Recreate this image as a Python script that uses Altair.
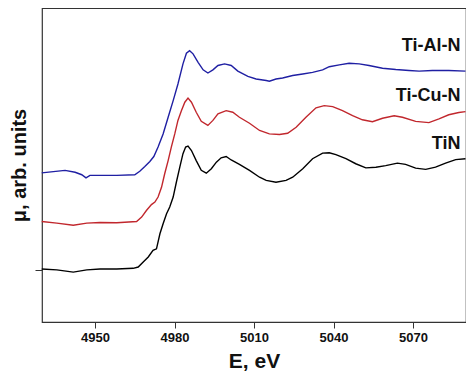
import altair as alt
import pandas as pd

# TiN (black)
tin_E = [4929.9, 4935.6, 4941.8, 4946.9, 4951.9, 4958.2, 4964.4, 4966.3, 4968.2, 4970.1,
         4971.9, 4973.2, 4974.5, 4975.7, 4977.0, 4978.2, 4979.5, 4980.7, 4982.0, 4983.2,
         4984.2, 4985.1, 4986.4, 4988.2, 4990.1, 4992.0, 4993.9, 4995.8, 4997.6, 4999.5,
         5001.4, 5004.5, 5008.3, 5012.1, 5014.6, 5018.3, 5022.1, 5024.6, 5028.4, 5032.1,
         5035.9, 5038.4, 5040.9, 5044.7, 5048.4, 5052.2, 5056.0, 5059.7, 5064.1, 5067.2,
         5071.0, 5074.8, 5078.5, 5082.3, 5086.1, 5089.8]
tin_mu = [16.9, 16.6, 15.9, 16.6, 16.9, 16.9, 17.1, 17.5, 19.1, 20.7,
          22.8, 23.3, 28.1, 31.3, 34.5, 36.6, 39.8, 44.5, 49.3, 53.6,
          55.7, 56.0, 54.6, 51.4, 48.3, 47.4, 48.8, 50.9, 52.3, 52.7,
          51.6, 50.2, 48.3, 46.1, 45.1, 44.5, 45.1, 46.1, 48.8, 52.0,
          53.8, 53.9, 53.3, 52.0, 50.4, 49.1, 49.3, 49.8, 50.6, 50.2,
          49.0, 48.6, 49.3, 50.6, 51.7, 52.0]

# Ti-Cu-N (red)
cu_E = [4929.9, 4935.6, 4941.8, 4946.9, 4951.9, 4958.2, 4965.7, 4967.6, 4969.4, 4971.3,
        4972.6, 4973.8, 4975.1, 4976.3, 4977.6, 4978.8, 4980.1, 4981.3, 4982.6, 4983.9,
        4985.1, 4986.4, 4988.2, 4990.1, 4992.6, 4994.5, 4996.4, 4999.5, 5002.0, 5004.5,
        5008.3, 5012.1, 5015.8, 5019.6, 5022.7, 5025.9, 5029.6, 5033.4, 5036.5, 5039.7,
        5043.4, 5047.2, 5050.9, 5054.7, 5058.5, 5062.9, 5066.0, 5071.0, 5076.0, 5079.8,
        5083.5, 5087.3, 5089.8]
cu_mu = [32.0, 31.5, 30.8, 31.5, 31.7, 31.6, 32.0, 33.4, 35.5, 37.4,
         38.2, 39.8, 42.9, 47.2, 51.4, 55.7, 59.9, 64.2, 67.3, 70.0,
         71.3, 70.0, 66.8, 63.9, 62.6, 64.2, 66.3, 67.3, 66.8, 65.2,
         63.3, 61.0, 59.9, 59.7, 60.1, 62.0, 65.2, 68.2, 68.9, 68.6,
         67.3, 65.7, 64.4, 63.8, 64.9, 65.7, 65.2, 63.9, 63.5, 64.7,
         66.0, 66.7, 67.0]

# Ti-Al-N (blue)
al_E = [4929.9, 4934.3, 4938.7, 4942.5, 4945.0, 4946.6, 4948.1, 4951.9, 4958.2, 4965.0,
        4966.9, 4968.8, 4970.7, 4972.2, 4973.8, 4975.7, 4977.6, 4979.5, 4981.3, 4983.2,
        4984.5, 4985.7, 4987.0, 4988.9, 4990.8, 4992.6, 4994.5, 4996.4, 4998.9, 5001.4,
        5003.9, 5007.7, 5010.8, 5014.6, 5015.8, 5018.3, 5020.8, 5024.6, 5028.4, 5032.1,
        5035.9, 5038.4, 5042.2, 5045.9, 5049.7, 5053.4, 5058.5, 5063.5, 5068.5, 5072.3,
        5077.3, 5083.5, 5089.8]
al_mu = [47.5, 47.9, 48.3, 47.7, 46.9, 45.9, 46.7, 46.7, 46.7, 46.9,
         48.0, 49.5, 51.1, 52.7, 55.7, 59.9, 65.2, 70.5, 75.8, 82.2,
         85.6, 86.4, 85.4, 82.7, 80.3, 79.3, 80.3, 81.7, 82.2, 81.7,
         79.9, 78.2, 77.4, 76.9, 76.7, 77.4, 77.7, 78.5, 79.0, 79.5,
         80.3, 81.3, 81.9, 82.4, 82.2, 81.7, 80.8, 80.4, 80.1, 79.9,
         80.1, 80.1, 79.9]

series = ["TiN", "Ti-Cu-N", "Ti-Al-N"]
colors = ["#000000", "#c1272d", "#1f1fa3"]

label_text = ["Ti-Al-N", "Ti-Cu-N", "TiN"]
label_E = [5087.9, 5087.9, 5087.9]
label_mu = [88.0, 72.1, 56.7]

rows = []
for name, E, mu in [("TiN", tin_E, tin_mu), ("Ti-Cu-N", cu_E, cu_mu), ("Ti-Al-N", al_E, al_mu)]:
    for i, (e, m) in enumerate(zip(E, mu)):
        rows.append({"series": name, "E": e, "mu": m, "order": i})
df = pd.DataFrame(rows)
labels = pd.DataFrame({"text": label_text, "E": label_E, "mu": label_mu})

xscale = alt.Scale(domain=[4930, 5090], nice=False, zero=False)
yscale = alt.Scale(domain=[0, 100], nice=False, zero=False)

lines = alt.Chart(df).mark_line(strokeWidth=1.4).encode(
    x=alt.X("E:Q", scale=xscale,
            axis=alt.Axis(title="E, eV", values=[4950, 4980, 5010, 5040, 5070],
                          format="d", grid=False, domain=False,
                          tickColor="#333333", tickSize=6, tickWidth=1,
                          labelFont="Liberation Sans", labelFontWeight="bold",
                          labelFontSize=13, labelColor="#111111", labelPadding=3,
                          titleFont="Liberation Sans", titleFontWeight="bold",
                          titleFontSize=21, titleColor="#111111",
                          titleBaseline="middle", titleY=39)),
    y=alt.Y("mu:Q", scale=yscale,
            axis=alt.Axis(title="\u03bc, arb. units", values=[16.7], labels=False,
                          grid=False, domain=False, tickColor="#333333",
                          tickSize=7, tickWidth=1,
                          titleFont="Liberation Sans", titleFontWeight="bold",
                          titleFontSize=20, titleColor="#111111",
                          titleBaseline="middle", titleX=-23, titleY=157)),
    color=alt.Color("series:N", scale=alt.Scale(domain=series, range=colors), legend=None),
    detail="series:N",
    order="order:Q",
)

texts = alt.Chart(labels).mark_text(
    align="right", baseline="middle", font="Liberation Sans",
    fontWeight="bold", fontSize=18, color="#111111"
).encode(
    x=alt.X("E:Q", scale=xscale),
    y=alt.Y("mu:Q", scale=yscale),
    text="text:N",
)

chart = alt.layer(lines, texts).properties(
    width=424, height=314,
    autosize=alt.AutoSizeParams(type="none"),
    padding={"left": 34, "top": 0, "right": 0, "bottom": 49},
).configure_view(stroke="#333333", strokeWidth=1.2)

chart.save("out.html", embed_options={"renderer": "svg", "actions": False})
